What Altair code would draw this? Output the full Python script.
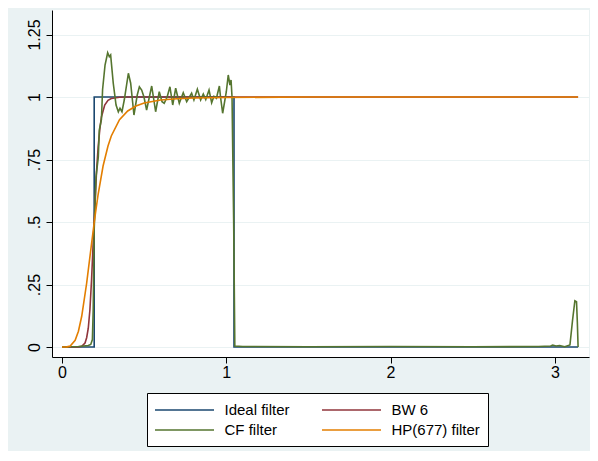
import altair as alt
import pandas as pd

# ---- data ----
series_names = ["Ideal filter", "BW 6", "CF filter", "HP(677) filter"]
series_colors = ["#1a476f", "#90353b", "#55752f", "#e37e00"]

ideal_x = [0.0, 0.196, 0.196, 1.047, 1.047, 3.1416]
ideal_y = [0.0, 0.0, 1.0, 1.0, 0.0, 0.0]

bw_x = [0.0, 0.10, 0.12, 0.14, 0.15, 0.16, 0.17, 0.18, 0.19, 0.20, 0.21, 0.22,
        0.23, 0.24, 0.26, 0.28, 0.30, 0.35, 0.40, 1.0, 2.0, 3.1416]
bw_y = [0.0, 0.0, 0.003, 0.016, 0.037, 0.075, 0.15, 0.27, 0.42, 0.56, 0.70, 0.80,
        0.87, 0.92, 0.968, 0.987, 0.994, 0.999, 1.0, 1.0, 1.0, 1.0]

cf_x = [0.0, 0.05, 0.10, 0.13, 0.16, 0.175, 0.185, 0.19, 0.196, 0.207, 0.221,
        0.227, 0.24, 0.247, 0.262, 0.278, 0.288, 0.296, 0.312, 0.329, 0.343,
        0.353, 0.365, 0.379, 0.404, 0.418, 0.438, 0.458, 0.471, 0.485, 0.499,
        0.515, 0.546, 0.570, 0.592, 0.609, 0.622, 0.640, 0.657, 0.674, 0.692,
        0.714, 0.738, 0.759, 0.789, 0.803, 0.824, 0.844, 0.86, 0.875, 0.895,
        0.911, 0.925, 0.94, 0.958, 0.965, 0.978, 1.000, 1.012, 1.022, 1.029,
        1.035, 1.045, 1.052, 1.10, 1.5, 2.0, 2.5, 2.9, 2.975, 2.987, 3.007,
        3.03, 3.06, 3.092, 3.108, 3.122, 3.132, 3.137, 3.1416]
cf_y = [0.0, 0.001, 0.002, 0.004, 0.006, 0.01, 0.03, 0.15, 0.47, 0.68, 0.76,
        0.868, 0.91, 1.03, 1.128, 1.177, 1.161, 1.168, 1.055, 0.968, 0.941,
        0.955, 0.941, 0.988, 1.095, 1.055, 0.928, 1.008, 1.041, 1.028, 1.0,
        0.948, 1.044, 0.941, 1.021, 0.981, 0.975, 1.0, 1.041, 0.968, 1.035,
        0.975, 1.017, 0.981, 1.015, 0.988, 1.031, 0.988, 1.012, 0.99, 1.028,
        0.977, 1.003, 0.995, 1.044, 1.0, 0.935, 1.02, 1.088, 1.048, 1.068,
        1.0, 0.5, 0.004, 0.002, 0.001, 0.002, 0.001, 0.002, 0.004, 0.008, 0.004,
        0.006, 0.001, 0.008, 0.108, 0.185, 0.181, 0.10, 0.0]

hp_x = [0.0, 0.03, 0.05, 0.08, 0.10, 0.12, 0.15, 0.18, 0.20, 0.22, 0.25, 0.28,
        0.30, 0.35, 0.40, 0.45, 0.50, 0.60, 0.70, 0.80, 1.0, 1.5, 2.0, 3.1416]
hp_y = [0.0, 0.0005, 0.004, 0.027, 0.063, 0.123, 0.255, 0.414, 0.518, 0.611,
        0.724, 0.804, 0.844, 0.909, 0.944, 0.964, 0.976, 0.988, 0.993, 0.996,
        0.998, 1.0, 1.0, 1.0]

x_ticks = [0, 1, 2, 3]
y_ticks = [0, 0.25, 0.5, 0.75, 1.0, 1.25]


def frame(name, xs, ys):
    return pd.DataFrame({"freq": xs, "gain": ys, "series": name,
                         "i": list(range(len(xs)))})


bg = "#EAF2F3"
font = "Liberation Sans"

color = alt.Color(
    "series:N",
    scale=alt.Scale(domain=series_names, range=series_colors),
    legend=alt.Legend(
        title=None, orient="none", legendX=95, legendY=383,
        direction="horizontal", columns=2,
        symbolType="M-1.125,0H6.25", symbolSize=256, symbolStrokeWidth=1.6,
        symbolOffset=0, labelOffset=51.5, labelAlign="left", labelLimit=300,
        labelFont=font, labelFontSize=15, labelColor="black",
        strokeColor="black", fillColor="white", padding=8,
        columnPadding=28, rowPadding=3,
    ),
)

x_enc = alt.X(
    "freq:Q",
    scale=alt.Scale(domain=[-0.0609, 3.208], nice=False, zero=False),
    axis=alt.Axis(title=None, values=x_ticks, grid=False, format="d",
                  labelFont=font, labelFontSize=16, labelColor="black",
                  tickSize=6, labelPadding=1, domainColor="black",
                  tickColor="black"),
)
y_enc = alt.Y(
    "gain:Q",
    scale=alt.Scale(domain=[-0.04, 1.348], nice=False, zero=False),
    axis=alt.Axis(title=None, values=y_ticks, grid=True, gridColor=bg,
                  gridWidth=1.2,
                  labelExpr="replace(format(datum.value, '.3~f'), '0.', '.')",
                  labelAngle=270, labelAlign="center", labelBaseline="bottom",
                  labelFont=font, labelFontSize=16, labelColor="black",
                  tickSize=6, labelPadding=4, domainColor="black",
                  tickColor="black"),
)


def layer(df):
    return alt.Chart(df).mark_line(strokeWidth=1.6, clip=True).encode(
        x=x_enc, y=y_enc, color=color, order=alt.Order("i:Q"))


chart = alt.layer(
    layer(frame(series_names[0], ideal_x, ideal_y)),
    layer(frame(series_names[1], bw_x, bw_y)),
    layer(frame(series_names[2], cf_x, cf_y)),
    layer(frame(series_names[3], hp_x, hp_y)),
).properties(
    width=537, height=347,
    autosize=alt.AutoSizeParams(type="none"),
    padding={"left": 44, "top": 2, "right": 1, "bottom": 94},
    background=bg,
).configure_view(
    fill="white", stroke=None,
).configure_axis(
    domainWidth=1, tickWidth=1,
)

chart.save("out.html", embed_options={"renderer": "svg", "actions": False})
